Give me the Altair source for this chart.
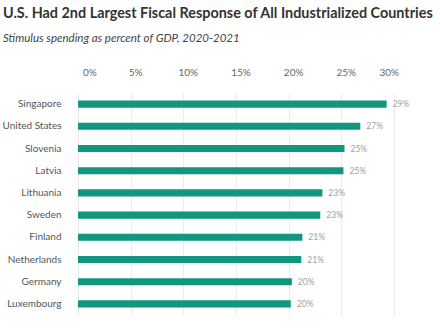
import altair as alt
import pandas as pd

countries = ["Singapore", "United States", "Slovenia", "Latvia", "Lithuania",
             "Sweden", "Finland", "Netherlands", "Germany", "Luxembourg"]
values = [29.3, 26.8, 25.3, 25.2, 23.2, 23.0, 21.3, 21.2, 20.3, 20.2]
labels = ["29%", "27%", "25%", "25%", "23%", "23%", "21%", "21%", "20%", "20%"]

df = pd.DataFrame({"country": countries, "value": values, "label": labels})

FONT = "Lato"

y_enc = alt.Y("country:N", sort=countries, title=None,
              scale=alt.Scale(paddingInner=0.68, paddingOuter=0.34),
              axis=alt.Axis(domain=False, ticks=False, labelFontSize=10,
                            labelColor="#555555", labelPadding=17, labelFont=FONT))

bars = alt.Chart(df).mark_bar(color="#12977f").encode(
    x=alt.X("value:Q", title=None,
            scale=alt.Scale(domain=[0, 30], nice=False),
            axis=alt.Axis(orient="top", values=[0, 5, 10, 15, 20, 25, 30],
                          labelExpr="datum.value + '%'", domain=False, ticks=False,
                          labelFontSize=10, labelColor="#666666", labelPadding=16,
                          labelOffset=4.5,
                          gridColor="#ebebeb", labelFont=FONT)),
    y=y_enc,
)

text = alt.Chart(df).mark_text(align="left", dx=6, fontSize=8.5, color="#a0a0a0",
                               font=FONT).encode(
    x="value:Q",
    y=alt.Y("country:N", sort=countries),
    text="label:N",
)

chart = (bars + text).properties(
    width=316, height=222,
    autosize=alt.AutoSizeParams(type="none"),
    padding={"left": 78, "top": 93, "right": 46, "bottom": 13},
    title=alt.TitleParams(
        text="U.S. Had 2nd Largest Fiscal Response of All Industrialized Countries",
        subtitle="Stimulus spending as percent of GDP, 2020-2021",
        anchor="start", frame="group", dx=-75, offset=22,
        font=FONT, fontSize=14.4, fontWeight="bold", color="#333333",
        subtitleFont=FONT, subtitleFontSize=11.5, subtitleFontStyle="italic",
        subtitleColor="#444444", subtitlePadding=11,
    ),
).configure_view(stroke=None)

chart.save("out.html", embed_options={"renderer": "svg", "actions": False})
